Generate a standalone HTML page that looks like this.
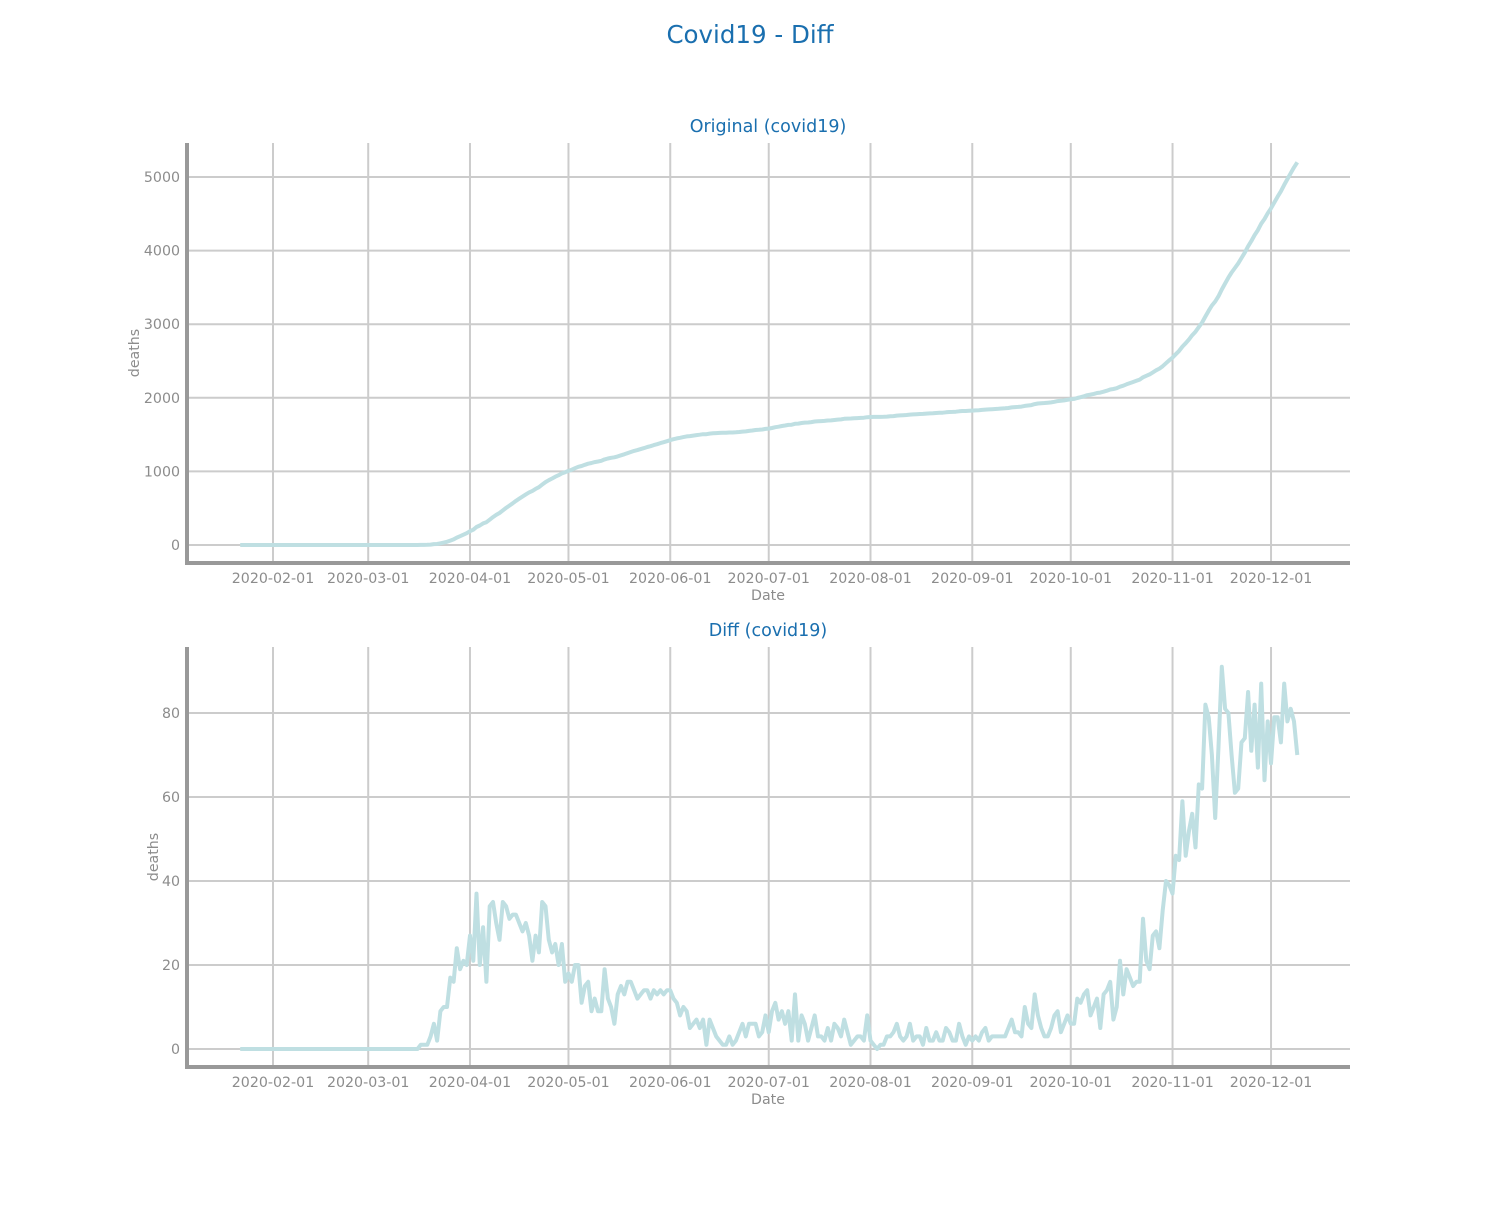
<!DOCTYPE html>
<html><head><meta charset="utf-8"><style>
body{margin:0;background:#fff;}
svg text{font-family:"DejaVu Sans","Liberation Sans",sans-serif;}
</style></head><body>
<svg id="chart" width="1500" height="1200" xmlns="http://www.w3.org/2000/svg">
<text x="750" y="43" text-anchor="middle" font-size="24.5" fill="#1a6faf">Covid19 - Diff</text>
</svg>
<script>
const startDate = "2020-01-22";
const monthTicks = ["2020-02-01","2020-03-01","2020-04-01","2020-05-01","2020-06-01","2020-07-01","2020-08-01","2020-09-01","2020-10-01","2020-11-01","2020-12-01"];
const topTicks = [0,1000,2000,3000,4000,5000];
const bottomTicks = [0,20,40,60,80];
const diffs = [
0,0,0,0,0,0,0,0,0,0, 0,0,0,0,0,0,0,0,0,0,0,0,0,0,0,0,0,0,0,0,0,0,0,0,0,0,0,0,0,
0,0,0,0,0,0,0,0,0,0,0,0,0,0,0,0,
1,1,1,3,6,2,9,10,10,17,16,24,19,21,20,
27,21,37,20,29,16,34,35,30,26,35,34,31,32,32,30,28,30,27,21,27,23,35,34,26,23,25,20,25,16,
18,16,20,20,11,15,16,9,12,9,9,19,12,10,6,13,15,13,16,16,14,12,13,14,14,12,14,13,14,13,14,
14,12,11,8,10,9,5,6,7,5,7,1,7,5,3,2,1,1,3,1,2,4,6,3,6,6,6,3,4,8,
4,9,11,7,9,6,9,2,13,2,8,6,2,5,8,3,3,2,5,2,6,5,3,7,4,1,2,3,3,2,8,
2,1,0,1,1,3,3,4,6,3,2,3,6,2,3,3,1,5,2,2,4,2,2,5,4,2,2,6,3,1,3,
2,3,2,4,5,2,3,3,3,3,3,5,7,4,4,3,10,6,5,13,8,5,3,3,5,8,9,4,6,8,
6,6,12,11,13,14,8,10,12,5,13,14,16,7,10,21,13,19,17,15,16,16,31,21,19,27,28,24,33,40,39,
37,46,45,59,46,52,56,48,63,62,82,79,70,55,72,91,81,80,70,61,62,73,74,85,71,82,67,87,64,78,
68,79,79,73,87,78,81,78,70
];
const deaths = [];
let acc = 0;
for (const v of diffs) { acc += v; deaths.push(acc); }

const NS = "http://www.w3.org/2000/svg";
const svg = document.getElementById("chart");
function mk(tag, attrs, parent){ const e=document.createElementNS(NS,tag); for(const k in attrs) e.setAttribute(k,attrs[k]); (parent||svg).appendChild(e); return e; }
const t0 = Date.parse(startDate);
function dayOf(s){ return Math.round((Date.parse(s)-t0)/86400000); }
function xScale(d){ return 273 + (d-10)*3.283; }

function panel(top, title, values, ticks, vmax, name){
  const bottom = top+420, left=187, right=1350;
  const y0 = top+402, yTop = name==="original" ? top+34 : top+66;
  const yScale = v => y0 - v*(y0-yTop)/vmax;
  const g = mk("g",{});
  
  
  const tt = mk("text",{x:768,y:top-11,"text-anchor":"middle","font-size":17.5,fill:"#1a6faf"},g);
  tt.textContent = title;
  
  
  for(const m of monthTicks){
    const x = xScale(dayOf(m));
    const gl = mk("line",{x1:x,x2:x,y1:top,y2:bottom,stroke:"#cccccc","stroke-width":2},g);
    
    
    const lb = mk("text",{x:x,y:bottom+20,"text-anchor":"middle","font-size":14.2,fill:"#8c8c8c"},g);
    lb.textContent = m;
    
    
  }
  for(const t of ticks){
    const y = yScale(t);
    const gl = mk("line",{x1:left,x2:right,y1:y,y2:y,stroke:"#cccccc","stroke-width":2},g);
    
    
    const lb = mk("text",{x:180,y:y+5,"text-anchor":"end","font-size":14.2,fill:"#8c8c8c"},g);
    lb.textContent = t;
    
    
  }
  const xt = mk("text",{x:768,y:bottom+37,"text-anchor":"middle","font-size":14.2,fill:"#8c8c8c"},g);
  xt.textContent="Date";
  
  
  const yx = name==="original"?139:158;
  const yt = mk("text",{x:yx,y:(top+bottom)/2,"text-anchor":"middle","font-size":14.2,fill:"#8c8c8c",transform:`rotate(-90 ${yx} ${(top+bottom)/2})`},g);
  yt.textContent="deaths";
  
  
  const pts = values.map((v,i)=>xScale(i).toFixed(1)+","+yScale(v).toFixed(1)).join(" ");
  const pl = mk("polyline",{points:pts,fill:"none",stroke:"#bfdfe2","stroke-width":4,"stroke-linejoin":"round"},g);
  
  
  const ls = mk("line",{x1:left,x2:left,y1:top,y2:bottom+2,stroke:"#999999","stroke-width":4},g);
  
  
  const bs = mk("line",{x1:left-2,x2:right,y1:bottom,y2:bottom,stroke:"#999999","stroke-width":4},g);
  
  
}
panel(143, "Original (covid19)", deaths, topTicks, 5000, "original");
panel(647, "Diff (covid19)", diffs, bottomTicks, 80, "diff");
</script>
</body></html>
